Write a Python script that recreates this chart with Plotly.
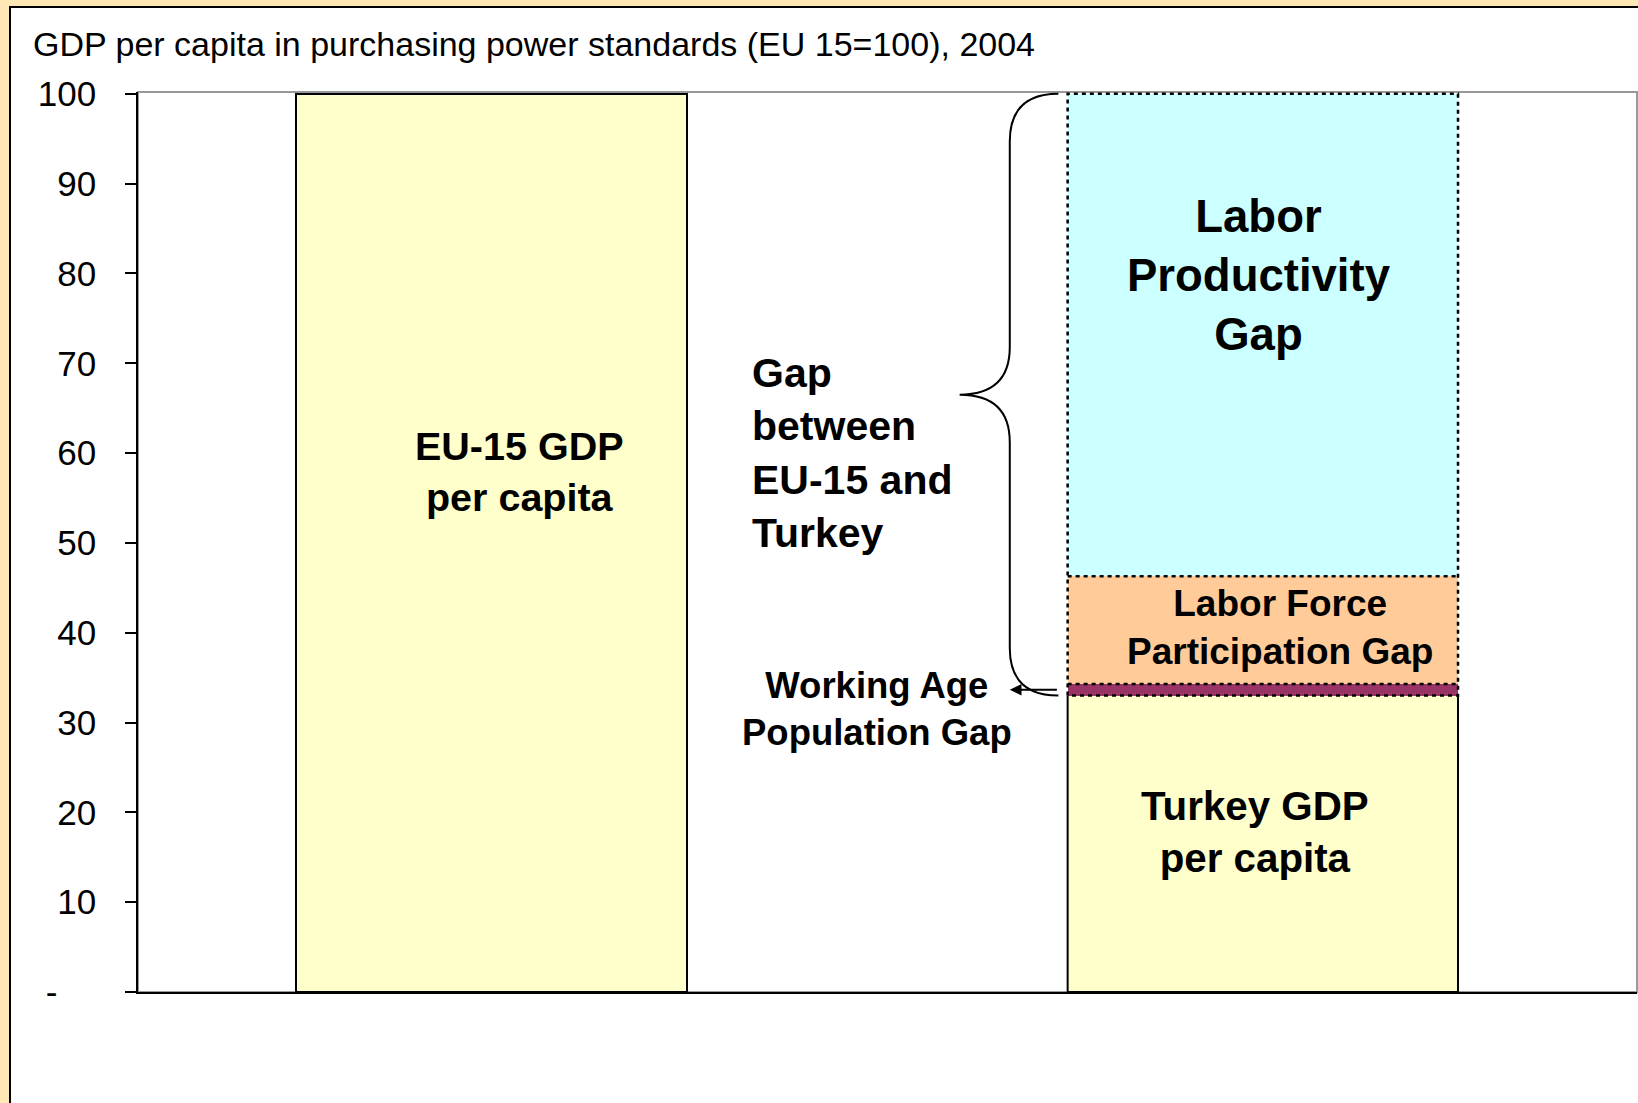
import plotly.graph_objects as go

# ---- data ----
categories = ["EU-15", "Turkey"]
eu15_gdp = [100.0]
turkey_gdp = [33.0]
working_age_gap = [1.3]
labor_force_gap = [12.0]
productivity_gap = [53.7]
tick_values = [0, 10, 20, 30, 40, 50, 60, 70, 80, 90, 100]
tick_labels = ["-\u00a0\u00a0\u00a0\u00a0", "10", "20", "30", "40", "50", "60", "70", "80", "90", "100"]

FONT = "Arial, Liberation Sans, sans-serif"
x_pos = list(range(len(categories)))  # 0 = EU-15, 1 = Turkey
BW = 0.506
xe, xt = x_pos[0], x_pos[1]

fig = go.Figure()
fig.add_bar(x=[xe], y=eu15_gdp, width=BW, marker=dict(color="#FFFFCC", line=dict(color="black", width=2)),
            showlegend=False, hoverinfo="skip")
seg_colors = ["#FFFFCC", "#993366", "#FFCC99", "#CCFFFF"]
segs = [turkey_gdp, working_age_gap, labor_force_gap, productivity_gap]
for vals, col in zip(segs, seg_colors):
    fig.add_bar(x=[xt], y=vals, width=BW, marker=dict(color=col, line=dict(width=0)),
                showlegend=False, hoverinfo="skip")

# cumulative boundaries
b0 = turkey_gdp[0]
b1 = b0 + working_age_gap[0]
b2 = b1 + labor_force_gap[0]
b3 = b2 + productivity_gap[0]
L, R = xt - BW / 2, xt + BW / 2

# solid outline of Turkey GDP block
fig.add_scatter(x=[L, L, R, R], y=[b0, 0, 0, b0], mode="lines",
                line=dict(color="black", width=2), showlegend=False, hoverinfo="skip")
# dotted outlines of gap blocks
fig.add_scatter(x=[L, L, R, R, L, None, L, R, None, L, R], y=[b0, b3, b3, b0, b0, None, b1, b1, None, b2, b2],
                mode="lines", line=dict(color="black", width=2.5, dash="4px,4px"),
                showlegend=False, hoverinfo="skip")

# brace
xend = L - 0.012
xv = L - 0.075
xtip = L - 0.14
r = 5.3
mid = (b3 + b0) / 2
path = (f"M {xend},{b3} Q {xv},{b3} {xv},{b3 - r} L {xv},{mid + r} Q {xv},{mid} {xtip},{mid} "
        f"Q {xv},{mid} {xv},{mid - r} L {xv},{b0 + r} Q {xv},{b0} {xend},{b0}")
fig.add_shape(type="path", path=path, xref="x", yref="y", line=dict(color="black", width=2))

# arrow to working-age gap
ya = b0 + working_age_gap[0] / 2
fig.add_annotation(x=L - 0.075, y=ya, ax=xend, ay=ya, axref="x", ayref="y", xref="x", yref="y",
                   text="", showarrow=True, arrowhead=2, arrowsize=1.3, arrowwidth=1.8, arrowcolor="black")

def lab(x, y, text, size, xanchor="center", align="center"):
    fig.add_annotation(x=x, y=y, xref="x", yref="y", text=text, showarrow=False,
                       xanchor=xanchor, yanchor="middle", align=align,
                       font=dict(family=FONT, size=size, color="black"))

lab(xe + 0.036, 58.0, "<b>EU-15 GDP<br>per capita</b>", 39.5)
lab(xt - 0.005, 79.8, "<b>Labor<br>Productivity<br>Gap</b>", 45.5)
lab(0.335, 60.0, "<b>Gap<br>between<br>EU-15 and<br>Turkey</b>", 41, xanchor="left", align="left")
lab(xt + 0.022, 40.6, "<b>Labor Force<br>Participation Gap</b>", 37)
lab(0.500, 31.5, "<b>Working Age<br>Population Gap</b>", 36.5)
lab(xt - 0.010, 17.8, "<b>Turkey GDP<br>per capita</b>", 40.3)

# title
fig.add_annotation(x=(31 - 138) / 1499, y=(992 - 44) / 900, xref="paper", yref="paper",
                   text="GDP per capita in purchasing power standards (EU 15=100), 2004",
                   showarrow=False, xanchor="left", yanchor="middle",
                   font=dict(family=FONT, size=34, color="black"))

# white panel with black frame on beige background
fig.add_shape(type="rect", xref="paper", yref="paper", x0=(10 - 138) / 1499, x1=1.1,
              y0=-0.3, y1=(992 - 7) / 900, fillcolor="white", line=dict(color="black", width=2), layer="below")
# plot border (gray)
fig.add_shape(type="rect", xref="paper", yref="paper", x0=0, x1=1, y0=0, y1=1,
              line=dict(color="#999999", width=2), layer="below")

fig.update_layout(
    width=1638, height=1103,
    margin=dict(l=138, r=1, t=92, b=111),
    paper_bgcolor="#FFE8B6", plot_bgcolor="white",
    barmode="stack", bargap=0,
    font=dict(family=FONT, size=34, color="black"),
    xaxis=dict(range=[-0.458, 1.485], showticklabels=False, ticks="", showgrid=False, zeroline=False,
               showline=True, linecolor="black", linewidth=2),
    yaxis=dict(range=[0, 100.2], tickvals=tick_values, ticktext=tick_labels, ticks="outside", ticklen=11,
               tickwidth=1.5, tickcolor="black", showgrid=False, zeroline=False, showline=True,
               linecolor="black", linewidth=1.5, ticklabelstandoff=22,
               tickfont=dict(family=FONT, size=35, color="black")),
)

fig.write_html("out.html", config={"displayModeBar": False},
               post_script="document.body.style.margin='0';")
